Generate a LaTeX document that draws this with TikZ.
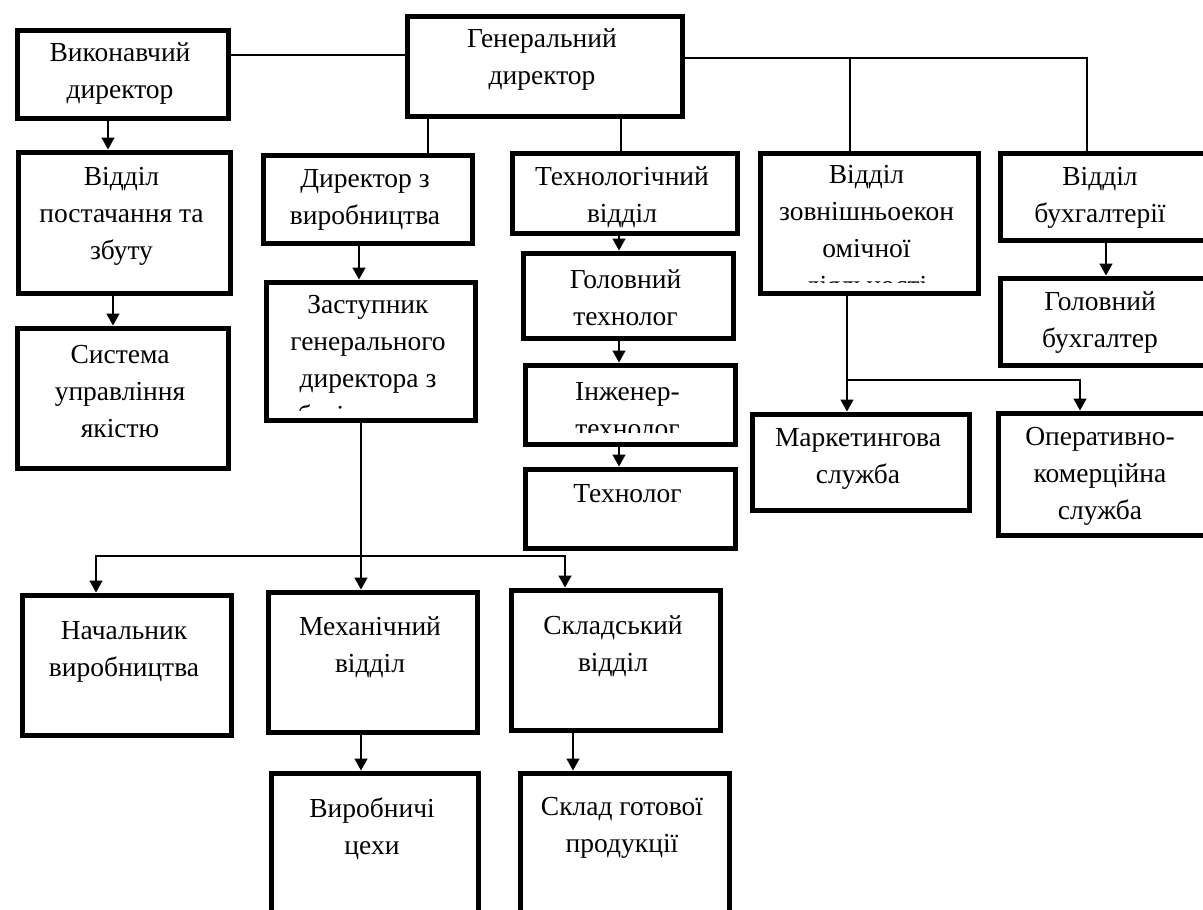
\documentclass[tikz,border=0pt]{standalone}
\usepackage{fontspec}
\setmainfont{Liberation Serif}
\usetikzlibrary{arrows.meta}
\newcommand\obox[5]{\node[box, anchor=north west, minimum width={#4-#2-5}, minimum height={#5-#3-5}] (#1) at ({#2+2.5},{#3+2.5}) {};}
\begin{document}
\begin{tikzpicture}[x=1pt,y=-1pt,
  box/.style={draw=black, line width=5pt, rectangle, inner sep=0pt, fill=none},
  txt/.style={align=center, inner sep=0pt, font=\fontsize{27.5}{37}\selectfont},
  conn/.style={line width=1.6pt, draw=black},
  arr/.style={conn, -{Triangle[length=12pt,width=13pt]}}]
\useasboundingbox (0,0) rectangle (1203,910);
\clip (0,0) rectangle (1203,910);
\fill[white] (0,0) rectangle (1203,910);

% boxes
\obox{vyk}{12}{25}{228}{118}
\obox{gen}{402}{11}{682}{116}
\obox{vid}{13}{147}{230}{293}
\obox{sys}{12}{323}{228}{468}
\obox{dir}{258}{150}{472}{243}
\obox{zast}{261}{277}{475}{420}
\obox{tech}{507}{148}{737}{233}
\obox{glt}{518}{248}{733}{338}
\obox{inzh}{520}{360}{735}{444}
\obox{tehn}{520}{464}{735}{548}
\obox{zovn}{755}{148}{978}{293}
\obox{buh}{995}{148}{1206}{240}
\obox{glb}{995}{273}{1206}{365}
\obox{mark}{747}{409}{969}{510}
\obox{oper}{993}{408}{1206}{535}
\obox{nach}{17}{590}{231}{735}
\obox{mech}{263}{587}{477}{732}
\obox{sklad}{506}{585}{720}{730}
\obox{vyr}{266}{768}{478}{940}
\obox{skgot}{515}{768}{729}{940}

% texts
\node[txt] (tvyk) at (120,74) {Виконавчий\\директор};
\node[txt] (tgen) at (542,60) {Генеральний\\директор};
\node[txt] (tvid) at (121.5,216) {Відділ\\постачання та\\збуту};
\node[txt] (tsys) at (120,392) {Система\\управління\\якістю};
\node[txt] (tdir) at (365,200) {Директор з\\виробництва};
\begin{scope}
\clip (264,280) rectangle (472,410);
\node[txt] (tzast) at (368,363) {Заступник\\генерального\\директора з\\будівництва};
\end{scope}
\node[txt] (ttech) at (622,197) {Технологічний\\відділ};
\node[txt] (tglt) at (625.5,298) {Головний\\технолог};
\begin{scope}
\clip (523,363) rectangle (732,432);
\node[txt] (tinzh) at (627.5,410) {Інженер-\\технолог};
\end{scope}
\node[txt] (ttehn) at (627.5,494) {Технолог};
\begin{scope}
\clip (758,151) rectangle (975,282.5);
\node[txt] (tzovn) at (866.5,233) {Відділ\\зовнішньоекон\\омічної\\діяльності};
\end{scope}
\node[txt] (tbuh) at (1100,198) {Відділ\\бухгалтерії};
\node[txt] (tglb) at (1100,323) {Головний\\бухгалтер};
\node[txt] (tmark) at (858,459) {Маркетингова\\служба};
\node[txt] (toper) at (1100,476) {Оперативно-\\комерційна\\служба};
\node[txt] (tnach) at (124,652) {Начальник\\виробництва};
\node[txt] (tmech) at (370,647) {Механічний\\відділ};
\node[txt] (tsklad) at (613,646) {Складський\\відділ};
\node[txt] (tvyr) at (372,829) {Виробничі\\цехи};
\node[txt] (tskgot) at (622,828) {Склад готової\\продукції};

% connector coordinates
\coordinate (hA) at (0,55);
\coordinate (hB) at (1087,58);
\coordinate (xZ) at (850,58);
\coordinate (xD) at (428,0);
\coordinate (xT) at (621,0);
\coordinate (xV) at (108,0);
\coordinate (xS) at (113,0);
\coordinate (xDz) at (359,0);
\coordinate (hZ) at (361,556);
\coordinate (hZl) at (96,556);
\coordinate (hZr) at (565,556);
\coordinate (xTc) at (619,0);
\coordinate (hM) at (847,380);
\coordinate (hO) at (1080,380);
\coordinate (xB) at (1106,0);
\coordinate (xM) at (361,0);
\coordinate (xK) at (573,0);

% connectors
\draw[conn] (vyk.east |- hA) -- (gen.west |- hA);
\draw[conn] (gen.east |- hB) -- (hB) -- (hB |- buh.north);
\draw[conn] (xZ) -- (xZ |- zovn.north);
\draw[conn] (gen.south -| xD) -- (dir.north -| xD);
\draw[conn] (gen.south -| xT) -- (tech.north -| xT);
\draw[arr] (vyk.south -| xV) -- (vid.north -| xV);
\draw[arr] (vid.south -| xS) -- (sys.north -| xS);
\draw[arr] (dir.south -| xDz) -- (zast.north -| xDz);
\draw[conn] (zast.south -| hZ) -- (hZ);
\draw[arr] (hZ) -- (mech.north -| hZ);
\draw[arr] (hZ) -- (hZl) -- (hZl |- nach.north);
\draw[arr] (hZ) -- (hZr) -- (hZr |- sklad.north);
\draw[arr] (tech.south -| xTc) -- (glt.north -| xTc);
\draw[arr] (glt.south -| xTc) -- (inzh.north -| xTc);
\draw[arr] (inzh.south -| xTc) -- (tehn.north -| xTc);
\draw[conn] (zovn.south -| hM) -- (hM);
\draw[arr] (hM) -- (mark.north -| hM);
\draw[arr] (hM) -- (hO) -- (hO |- oper.north);
\draw[arr] (buh.south -| xB) -- (glb.north -| xB);
\draw[arr] (mech.south -| xM) -- (vyr.north -| xM);
\draw[arr] (sklad.south -| xK) -- (skgot.north -| xK);
\end{tikzpicture}
\end{document}
